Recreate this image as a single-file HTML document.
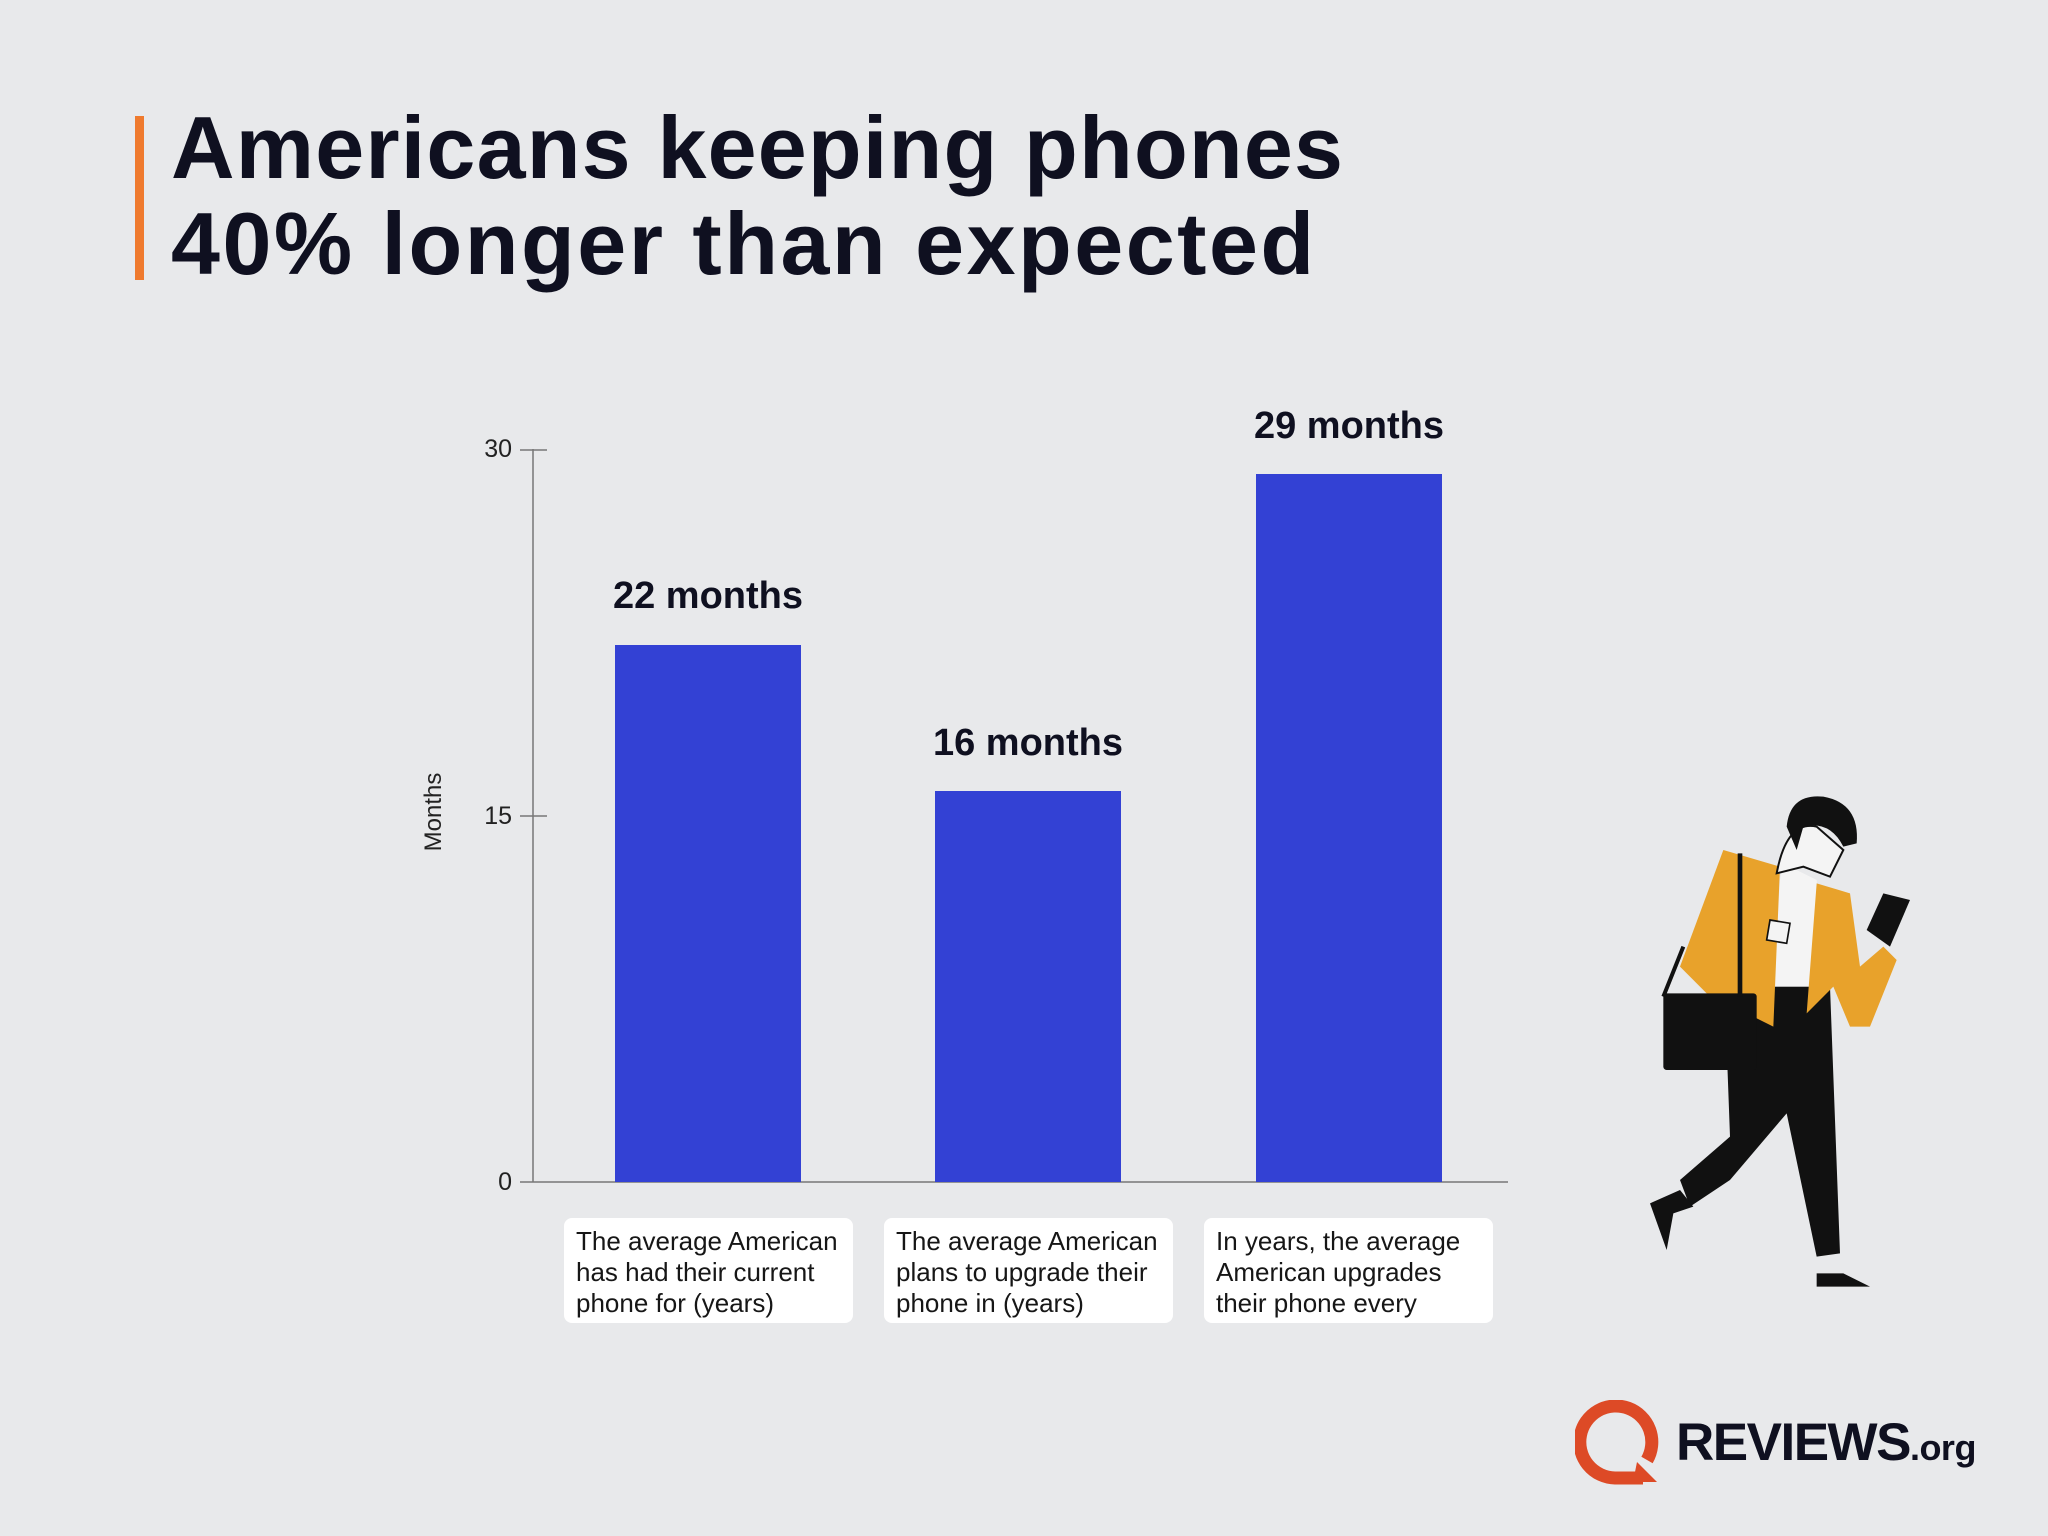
<!DOCTYPE html>
<html><head><meta charset="utf-8"><style>
html,body{margin:0;padding:0}
body{width:2048px;height:1536px;background:#e8e9eb;position:relative;overflow:hidden;font-family:"Liberation Sans",sans-serif;color:#0f1020}
.t{position:absolute;left:171px;font-weight:bold;font-size:88px;line-height:96px;white-space:nowrap;letter-spacing:1.2px}
.bar{position:absolute;background:#3341d4}
.vl{position:absolute;font-weight:bold;font-size:38px;text-align:center;width:300px;white-space:nowrap}
.box{position:absolute;top:1218px;height:105px;width:289px;background:#fff;border-radius:8px;box-sizing:border-box;padding:8px 12px;font-size:26px;line-height:31px;color:#161616;white-space:nowrap}
.tick{position:absolute;font-size:25px;color:#222;text-align:right;width:60px}
</style></head><body>
<div style="position:absolute;left:135px;top:116px;width:9px;height:164px;background:#ef7a2e"></div>
<div class="t" style="top:100px">Americans keeping phones</div>
<div class="t" style="top:196px;letter-spacing:2.5px">40% longer than expected</div>

<svg style="position:absolute;left:0;top:0" width="2048" height="1536">
<line x1="533" y1="449" x2="533" y2="1182" stroke="#777" stroke-width="1.5"/>
<line x1="520" y1="450" x2="547" y2="450" stroke="#777" stroke-width="1.5"/>
<line x1="520" y1="816" x2="547" y2="816" stroke="#777" stroke-width="1.5"/>
<line x1="520" y1="1182" x2="1508" y2="1182" stroke="#777" stroke-width="1.5"/>
</svg>
<div class="tick" style="left:452px;top:435px">30</div>
<div class="tick" style="left:452px;top:802px">15</div>
<div class="tick" style="left:452px;top:1168px">0</div>
<div style="position:absolute;left:384px;top:798px;width:100px;text-align:center;font-size:24px;transform:rotate(-90deg);color:#222">Months</div>

<div class="bar" style="left:615px;top:645px;width:186px;height:537px"></div>
<div class="bar" style="left:935px;top:791px;width:186px;height:391px"></div>
<div class="bar" style="left:1256px;top:474px;width:186px;height:708px"></div>
<div class="vl" style="left:558px;top:575px">22 months</div>
<div class="vl" style="left:878px;top:722px">16 months</div>
<div class="vl" style="left:1199px;top:405px">29 months</div>

<div class="box" style="left:564px">The average American<br>has had their current<br>phone for (years)</div>
<div class="box" style="left:884px">The average American<br>plans to upgrade their<br>phone in (years)</div>
<div class="box" style="left:1204px">In years, the average<br>American upgrades<br>their phone every</div>

<svg style="position:absolute;left:1630px;top:780px" width="300" height="520" viewBox="0 0 900 1560">
<path d="M420 620 L600 620 L630 1420 L560 1430 L470 1000 L300 1200 L180 1280 L150 1200 L300 1070 L290 800 Z" fill="#111"/>
<path d="M150 1230 L60 1270 L110 1410 L130 1300 L190 1280 Z" fill="#111"/>
<path d="M560 1480 L560 1520 L720 1520 L640 1480 Z" fill="#111"/>
<path d="M460 250 L560 300 L590 620 L430 620 L450 300 Z" fill="#f4f4f4"/>
<path d="M280 210 L450 260 L430 740 L230 640 L150 560 Z" fill="#e8a22b"/>
<path d="M560 310 L660 340 L690 560 L760 500 L800 540 L720 740 L660 740 L610 620 L530 700 Z" fill="#e8a22b"/>
<path d="M440 280 Q470 120 560 140 L640 210 L600 290 L520 260 Z" fill="#f4f4f4" stroke="#111" stroke-width="6"/>
<path d="M470 140 Q480 40 580 50 Q690 70 680 190 L640 200 Q600 120 520 140 L500 210 Z" fill="#111"/>
<rect x="100" y="640" width="280" height="230" rx="10" fill="#111"/>
<line x1="330" y1="220" x2="330" y2="650" stroke="#111" stroke-width="14"/>
<line x1="100" y1="650" x2="160" y2="500" stroke="#111" stroke-width="12"/>
<path d="M420 420 L480 430 L470 490 L410 480 Z" fill="#f4f4f4" stroke="#111" stroke-width="5"/>
<path d="M760 340 L840 360 L780 500 L710 450 Z" fill="#111"/>
</svg>

<svg style="position:absolute;left:1575px;top:1400px" width="90" height="90" viewBox="0 0 90 90">
<path d="M68 78 L40 78 A36 36 0 1 1 72 60" fill="none" stroke="#dd4a26" stroke-width="13"/>
<path d="M62 62 L82 82 L58 82 Z" fill="#dd4a26"/>
</svg>
<div style="position:absolute;left:1676px;top:1408px;font-weight:bold;font-size:53px;line-height:70px;color:#0f1020;white-space:nowrap;letter-spacing:-1.5px">REVIEWS<span style="font-size:36px;letter-spacing:-0.5px">.org</span></div>
</body></html>
